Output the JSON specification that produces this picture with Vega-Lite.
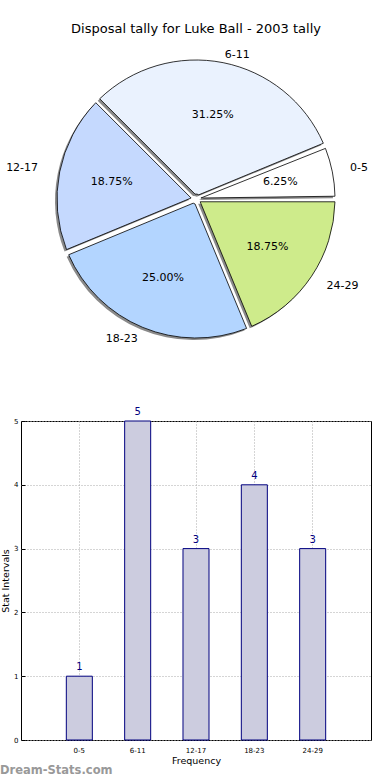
{
  "$schema": "https://vega.github.io/schema/vega-lite/v6.json",
  "padding": {"top": 23, "left": 0, "right": 0, "bottom": 0},
  "background": "white",
  "datasets": {
    "tally": [
      {"cat": "0-5", "start": 0, "count": 1, "pct": "6.25%"},
      {"cat": "6-11", "start": 6, "count": 5, "pct": "31.25%"},
      {"cat": "12-17", "start": 12, "count": 3, "pct": "18.75%"},
      {"cat": "18-23", "start": 18, "count": 4, "pct": "25.00%"},
      {"cat": "24-29", "start": 24, "count": 3, "pct": "18.75%"}
    ]
  },
  "title": {"text": "Dream-Stats.com", "orient": "bottom", "anchor": "start", "frame": "bounds", "fontSize": 11.5, "fontWeight": 600, "color": "#999999", "font": "DejaVu Sans", "offset": 0},
  "bounds": "flush",
  "spacing": 68,
  "config": {"font": "DejaVu Sans", "view": {"stroke": null}},
  "vconcat": [
    {
      "width": 350,
      "height": 308,
      "title": {"text": "Disposal tally for Luke Ball - 2003 tally", "fontSize": 13, "fontWeight": "normal", "offset": -1, "color": "black", "font": "DejaVu Sans"},
      "data": {"name": "tally"},
      "encoding": {
        "theta": {"field": "count", "type": "quantitative", "stack": true, "scale": {"range": [1.5708, 7.854]}},
        "order": {"field": "start", "type": "quantitative", "sort": "descending"}
      },
      "layer": [
        {"mark": {"type": "arc", "outerRadius": 139, "innerRadius": 5, "padAngle": 0.04, "fill": "#8a8a8a", "xOffset": -2, "yOffset": 2}},
        {
          "mark": {"type": "arc", "outerRadius": 139, "innerRadius": 5, "padAngle": 0.04, "stroke": "black", "strokeWidth": 0.8},
          "encoding": {
            "color": {"field": "cat", "type": "nominal", "legend": null,
              "scale": {"domain": ["0-5", "6-11", "12-17", "18-23", "24-29"], "range": ["#ffffff", "#eaf2fe", "#c5d9fe", "#b3d5ff", "#ceeb8b"]}}
          }
        },
        {
          "mark": {"type": "text", "radius": 86, "fontSize": 11, "color": "black", "baseline": "middle", "align": "center"},
          "encoding": {"text": {"field": "pct"}}
        },
        {
          "mark": {"type": "text", "radius": 157, "fontSize": 11, "color": "black", "baseline": "middle", "align": "left"},
          "encoding": {"text": {"condition": {"test": "indexof(['0-5','24-29'], datum.cat) >= 0", "field": "cat"}, "value": ""}}
        },
        {
          "mark": {"type": "text", "radius": 147, "fontSize": 11, "color": "black", "baseline": "middle", "align": "left"},
          "encoding": {"text": {"condition": {"test": "datum.cat == '6-11'", "field": "cat"}, "value": ""}}
        },
        {
          "mark": {"type": "text", "radius": 161, "fontSize": 11, "color": "black", "baseline": "middle", "align": "right"},
          "encoding": {"text": {"condition": {"test": "datum.cat == '12-17'", "field": "cat"}, "value": ""}}
        },
        {
          "mark": {"type": "text", "radius": 152, "fontSize": 11, "color": "black", "baseline": "middle", "align": "right"},
          "encoding": {"text": {"condition": {"test": "datum.cat == '18-23'", "field": "cat"}, "value": ""}}
        }
      ]
    },
    {
      "width": 350,
      "height": 319,
      "data": {"name": "tally"},
      "view": {"stroke": "black", "strokeWidth": 1},
      "encoding": {
        "x": {"field": "cat", "type": "nominal", "sort": null,
          "scale": {"paddingInner": 0.554, "paddingOuter": 0.777},
          "axis": {"title": "Frequency", "titleFontSize": 9.5, "titleFontWeight": "normal", "titleColor": "black", "titlePadding": 2,
            "labelFontSize": 7, "labelAngle": 0, "labelColor": "black", "labelPadding": 10, "tickSize": -4, "tickColor": "black",
            "domain": false, "grid": true, "gridDash": [1, 2], "gridColor": "#aaaaaa", "bandPosition": 0.5}},
        "y": {"field": "count", "type": "quantitative", "scale": {"domain": [0, 5], "nice": false},
          "axis": {"title": "Stat Intervals", "values": [0, 1, 2, 3, 4, 5], "titleFontSize": 9.5, "titleFontWeight": "normal", "titleColor": "black", "titlePadding": 3,
            "labelFontSize": 7, "labelColor": "black", "labelPadding": 7, "tickSize": -4, "tickColor": "black",
            "domain": false, "grid": true, "gridDash": [1, 2], "gridColor": "#aaaaaa"}}
      },
      "layer": [
        {"mark": {"type": "bar", "fill": "#ccccdf", "stroke": "#00007f", "strokeWidth": 1}},
        {
          "mark": {"type": "text", "dy": -4, "color": "#00007f", "fontSize": 10, "baseline": "bottom"},
          "encoding": {"text": {"field": "count"}}
        }
      ]
    }
  ]
}
